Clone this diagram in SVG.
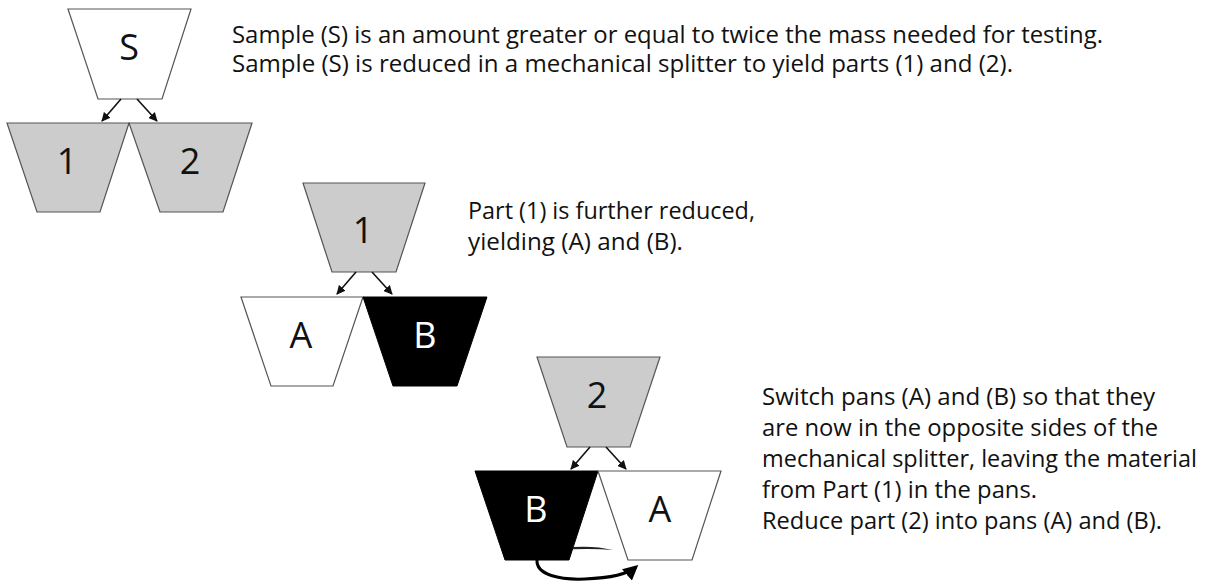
<svg xmlns="http://www.w3.org/2000/svg" width="1212" height="585" viewBox="0 0 1212 585">
<defs>
<style>
.pan{stroke:#555;stroke-width:1.2}
.white{fill:#fff}
.gray{fill:#cccccc}
.black{fill:#000;stroke:#000}
.lbl{font-family:"Open Sans","Liberation Sans",sans-serif;font-size:36px;text-anchor:middle;fill:#111}
.lblw{fill:#fff}
.txt{font-family:"Open Sans","Liberation Sans",sans-serif;font-size:23.5px;fill:#111}
.arr{stroke:#111;stroke-width:1.6;fill:none;marker-end:url(#ah)}
</style>
<marker id="ah" viewBox="0 0 10 10" refX="9" refY="5" markerWidth="9" markerHeight="9" markerUnits="userSpaceOnUse" orient="auto"><path d="M0,0 L10,5 L0,10 Z" fill="#111"/></marker>
<marker id="ah2" viewBox="0 0 10 10" refX="8" refY="5" markerWidth="5" markerHeight="5" orient="auto"><path d="M0,0 L10,5 L0,10 Z" fill="#000"/></marker>
</defs>
<rect width="1212" height="585" fill="#fff"/>
<g id="pan-S"><polygon class="pan white" points="68,9 191,9 162,99 98,99"/><text class="lbl" x="129" y="60">S</text></g>
<g id="pan-1a"><polygon class="pan gray" points="7,123 129,123 100,212 37,212"/><text class="lbl" x="67" y="174">1</text></g>
<g id="pan-2a"><polygon class="pan gray" points="129,123 252,123 223,212 160,212"/><text class="lbl" x="190" y="174">2</text></g>
<g id="pan-1b"><polygon class="pan gray" points="303,183 425,183 396,272 332,272"/><text class="lbl" x="363" y="243">1</text></g>
<g id="pan-Aa"><polygon class="pan white" points="241,297 363,297 333,386 271,386"/><text class="lbl" x="301" y="348">A</text></g>
<g id="pan-Ba"><polygon class="black" points="363,297 487,297 457,386 393,386"/><text class="lbl lblw" x="425" y="348">B</text></g>
<g id="pan-2b"><polygon class="pan gray" points="537,357 660,357 630,447 567,447"/><text class="lbl" x="597" y="408">2</text></g>
<g id="pan-Bb"><polygon class="black" points="475,471 598,471 569,560 505,560"/><text class="lbl lblw" x="536" y="522">B</text></g>
<g id="pan-Ab"><polygon class="pan white" points="598,471 721,471 692,560 628,560"/><text class="lbl" x="660" y="522">A</text></g>
<g id="connectors">
<line class="arr" x1="121" y1="99" x2="102" y2="121"/>
<line class="arr" x1="137" y1="99" x2="157" y2="121"/>
<line class="arr" x1="356" y1="272" x2="337" y2="294"/>
<line class="arr" x1="372" y1="272" x2="392" y2="294"/>
<line class="arr" x1="590" y1="447" x2="571" y2="469"/>
<line class="arr" x1="606" y1="447" x2="626" y2="469"/>
<path d="M573,547 Q595,545.5 613,550 Q595,548.5 573,549.3 Z" fill="#222"/>
<path d="M537,560 C536,575 560,580 585,579 C610,578 628,574 636,567" fill="none" stroke="#000" stroke-width="3" marker-end="url(#ah2)"/>
</g>
<g id="texts">
<text class="txt" x="232" y="43" textLength="871" lengthAdjust="spacingAndGlyphs">Sample (S) is an amount greater or equal to twice the mass needed for testing.</text>
<text class="txt" x="232" y="72" textLength="781" lengthAdjust="spacingAndGlyphs">Sample (S) is reduced in a mechanical splitter to yield parts (1) and (2).</text>
<text class="txt" x="468" y="219" textLength="287" lengthAdjust="spacingAndGlyphs">Part (1) is further reduced,</text>
<text class="txt" x="468" y="250" textLength="215" lengthAdjust="spacingAndGlyphs">yielding (A) and (B).</text>
<text class="txt" x="762" y="405" textLength="393" lengthAdjust="spacingAndGlyphs">Switch pans (A) and (B) so that they</text>
<text class="txt" x="762" y="436" textLength="396" lengthAdjust="spacingAndGlyphs">are now in the opposite sides of the</text>
<text class="txt" x="762" y="467" textLength="435" lengthAdjust="spacingAndGlyphs">mechanical splitter, leaving the material</text>
<text class="txt" x="762" y="498" textLength="275" lengthAdjust="spacingAndGlyphs">from Part (1) in the pans.</text>
<text class="txt" x="762" y="529" textLength="400" lengthAdjust="spacingAndGlyphs">Reduce part (2) into pans (A) and (B).</text>
</g>
</svg>
